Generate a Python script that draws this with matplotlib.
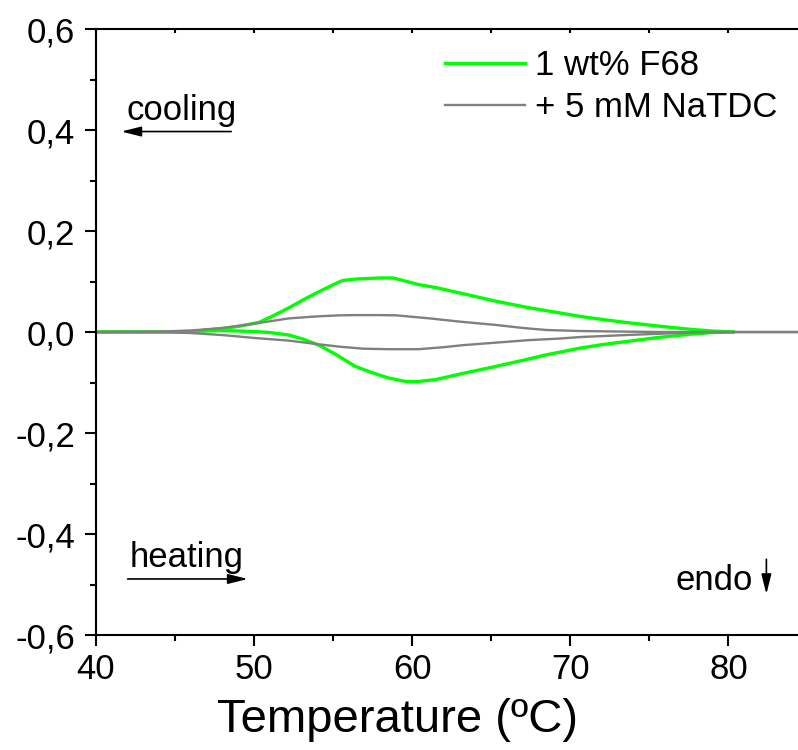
import numpy as np
import matplotlib
matplotlib.use("Agg")
import matplotlib.pyplot as plt
from matplotlib.ticker import MultipleLocator, FuncFormatter

# ---------- data ----------
# 1 wt% F68, cooling scan (upper branch)
f68_cool_T = [40, 44, 46, 48, 49, 50.3, 51.2, 52.2, 53.3, 54.3, 55.3, 55.6, 56.5, 57.9,
              58.8, 60.4, 61.5, 63.2, 65.3, 67.4, 69.3, 70.6, 72, 73.5, 75.5, 77.7, 79, 80.3]
f68_cool_Cp = [0, 0, 0.001, 0.007, 0.011, 0.019, 0.032, 0.048, 0.067, 0.083, 0.098, 0.102,
               0.105, 0.107, 0.107, 0.094, 0.088, 0.076, 0.061, 0.048, 0.038, 0.031, 0.025,
               0.019, 0.012, 0.005, 0.002, 0.0]
# 1 wt% F68, heating scan (lower branch)
f68_heat_T = [40, 44, 46, 48, 50, 51, 52.2, 53.1, 54.1, 55.2, 56.4, 57.5, 58.5, 59.6, 60.4,
              61.5, 63.2, 65.3, 67, 68.5, 70.6, 72, 73.5, 75.5, 77.7, 79, 80.3]
f68_heat_Cp = [0, 0, 0.001, 0.003, 0.001, -0.001, -0.006, -0.014, -0.026, -0.045, -0.068,
               -0.081, -0.091, -0.098, -0.098, -0.094, -0.082, -0.068, -0.056, -0.045,
               -0.032, -0.025, -0.019, -0.011, -0.004, -0.001, 0.0]
# + 5 mM NaTDC, cooling
tdc_cool_T = [40, 44, 46, 48, 50.1, 52.2, 54, 55.4, 56.4, 57.9, 59, 60.4, 61.1, 63.2, 65.3,
              67, 68.5, 70.6, 73, 76, 80, 84.5]
tdc_cool_Cp = [0, 0.001, 0.003, 0.008, 0.017, 0.027, 0.031, 0.033, 0.0335, 0.0335, 0.033,
               0.029, 0.027, 0.020, 0.014, 0.008, 0.004, 0.002, 0.001, 0.0, 0.0, 0.0]
# + 5 mM NaTDC, heating
tdc_heat_T = [40, 44, 46, 48, 50.1, 52.2, 54, 55.4, 56.9, 58.5, 60.4, 62, 63.2, 65.3, 67.4,
              69.3, 70.6, 73.5, 76, 78, 80, 84.5]
tdc_heat_Cp = [0, 0, -0.002, -0.006, -0.012, -0.017, -0.024, -0.029, -0.033, -0.034, -0.034,
               -0.030, -0.026, -0.021, -0.016, -0.013, -0.010, -0.006, -0.003, -0.001, 0.0, 0.0]

labels = ["1 wt% F68", "+ 5 mM NaTDC"]
colors = ["#00ff00", "#808080"]

plt.rcParams["font.family"] = ["Liberation Sans", "DejaVu Sans"]

fig = plt.figure(figsize=(7.98, 7.5), dpi=100)
ax = fig.add_axes([0.1203, 0.1533, 0.8797, 0.808])

ax.plot(f68_cool_T, f68_cool_Cp, color=colors[0], lw=2.4, label=labels[0])
ax.plot(f68_heat_T, f68_heat_Cp, color=colors[0], lw=2.4)
ax.plot(tdc_cool_T, tdc_cool_Cp, color=colors[1], lw=1.7, label=labels[1])
ax.plot(tdc_heat_T, tdc_heat_Cp, color=colors[1], lw=1.7)

ax.set_xlim(40, 84.4)
ax.set_ylim(-0.6, 0.6)
ax.xaxis.set_major_locator(MultipleLocator(10))
ax.xaxis.set_minor_locator(MultipleLocator(5))
ax.yaxis.set_major_locator(MultipleLocator(0.2))
ax.yaxis.set_minor_locator(MultipleLocator(0.1))
ax.yaxis.set_major_formatter(FuncFormatter(lambda v, p: f"{v:.1f}".replace(".", ",").replace("-0,0", "0,0")))

for s in ["left", "bottom", "top"]:
    ax.spines[s].set_linewidth(1.5)
ax.spines["right"].set_visible(False)
ax.tick_params(which="major", direction="out", length=8, width=1.5, labelsize=25)
ax.tick_params(axis="y", which="major", pad=7)
ax.tick_params(axis="x", which="major", pad=5)
ax.tick_params(which="minor", direction="out", length=4.5, width=1.5)
ax.xaxis.set_tick_params(which="both", top=True)
# top ticks point inward and are short
for t in ax.xaxis.get_major_ticks() + ax.xaxis.get_minor_ticks():
    t.tick2line.set_marker(matplotlib.lines.TICKDOWN)
    t.tick2line.set_markersize(3)

ax.set_xlabel("Temperature (ºC)", fontsize=34)
ax.xaxis.set_label_coords(0.43, -0.104)

leg = ax.legend(loc="upper left", bbox_to_anchor=(445 / 798, 1 - 49 / 750),
                bbox_transform=fig.transFigure, frameon=False, fontsize=25,
                handlelength=2.3, handletextpad=0.3, labelspacing=0.25,
                borderpad=0, borderaxespad=0)

# direction annotations
arrow = dict(arrowstyle="-|>,head_length=0.6,head_width=0.15", color="k", lw=1.2,
             mutation_scale=20, shrinkA=0, shrinkB=0)
ax.annotate("", xy=(41.6, 0.397), xytext=(48.55, 0.397), arrowprops=arrow)
ax.text(41.9, 0.420, "cooling", fontsize=25, va="baseline", ha="left")
ax.annotate("", xy=(49.6, -0.489), xytext=(42.0, -0.489), arrowprops=arrow)
ax.text(42.1, -0.466, "heating", fontsize=25, va="baseline", ha="left")
ax.annotate("", xy=(82.4, -0.519), xytext=(82.4, -0.45), arrowprops=arrow)
ax.text(76.65, -0.5105, "endo", fontsize=25, va="baseline", ha="left")

fig.savefig("out.png", dpi=100)
